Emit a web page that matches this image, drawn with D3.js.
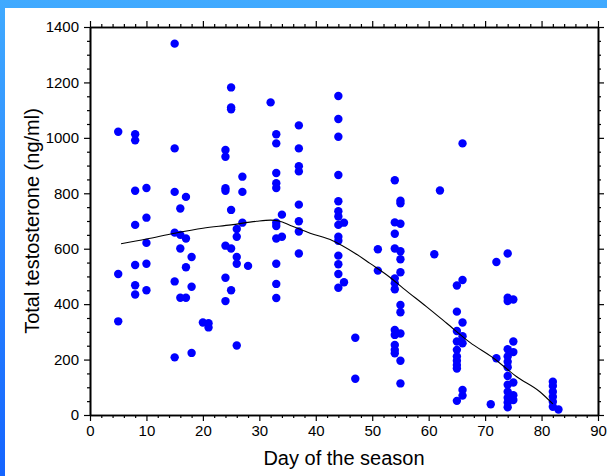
<!DOCTYPE html>
<html>
<head>
<meta charset="utf-8">
<script src="https://cdn.jsdelivr.net/npm/d3@7"></script>
<style>
  html, body { margin: 0; padding: 0; }
  body { width: 607px; height: 476px; overflow: hidden;
         background: linear-gradient(to bottom, #40aaff, #1464ff); }
  svg { display: block; }
  text { font-family: "Liberation Sans", Arial, sans-serif; fill: #000; }
</style>
</head>
<body>
<svg id="chart" width="607" height="476"></svg>
<script>
// Sampling day of each animal and its total testosterone (ng/ml)
const day = [
  5,5,5,
  8,8,8,8,8,8,8,
  10,10,10,10,10,
  15,15,15,15,15,15,
  16,16,16,16,
  17,17,17,17,
  18,18,18,
  20,21,21,
  24,24,24,24,24,24,24,
  25,25,25,25,25,25,
  26,26,26,26,26,
  27,27,27,
  28,32,
  33,33,33,33,33,33,33,33,33,33,33,
  34,34,
  37,37,37,37,37,37,37,37,
  44,44,44,44,44,44,44,44,44,44,44,44,44,44,
  45,45,
  47,47,
  51,51,
  54,54,54,54,54,54,54,54,54,54,54,54,
  55,55,55,55,55,55,55,55,55,55,55,
  61,62,
  65,65,65,65,65,65,65,65,65,65,
  66,66,66,66,66,66,66,
  71,72,72,
  74,74,74,74,74,74,74,74,74,74,74,74,74,
  75,75,75,75,75,75,
  82,82,82,82,82,82,
  83
];
const totalT = [
  1022,509,338,
  1013,991,809,686,541,468,435,
  819,712,621,546,450,
  1340,962,805,658,482,208,
  745,650,601,423,
  787,637,533,423,
  570,463,224,
  334,331,316,
  956,932,818,809,611,495,411,
  1182,1110,1103,740,601,450,
  671,643,570,546,251,
  860,805,694,
  538,1128,
  1013,980,873,836,819,694,682,637,546,473,422,
  723,643,
  1045,962,898,879,759,699,662,583,
  1151,1068,1004,866,771,735,716,686,643,629,575,544,509,459,
  694,479,
  279,131,
  598,521,
  847,695,654,601,493,475,454,307,289,253,235,223,
  773,764,690,591,562,515,397,371,294,196,114,
  580,810,
  467,373,303,265,235,211,196,180,168,51,
  980,487,334,284,259,90,70,
  39,552,205,
  583,423,411,237,211,192,172,141,109,84,62,45,28,
  417,265,227,117,71,54,
  120,105,84,66,48,30,
  20
];

// Smoothed seasonal trend
const trendDay = [5.5, 10, 15, 20, 25, 29.5, 32, 33.5, 35.5, 39, 43, 47, 49.6, 53, 55.5, 59.6, 63.2, 67.3, 71.5, 75.6, 79.7, 82];
const trendT   = [618, 635, 656, 674, 686, 699, 703, 700, 684, 656, 629, 583, 547, 499, 457, 391, 331, 262, 205, 138, 84, 40];

// Axis ticks
const xTicks = [0, 10, 20, 30, 40, 50, 60, 70, 80, 90];
const yTicks = [0, 200, 400, 600, 800, 1000, 1200, 1400];

const svg = d3.select("#chart");

// white panel over the blue frame
svg.append("rect").attr("x", 5).attr("y", 8).attr("width", 602).attr("height", 468).attr("fill", "#fff");

const x = d3.scaleLinear().domain([0, 90]).range([90, 598]);
const y = d3.scaleLinear().domain([0, 1400]).range([415, 27]);

const xMinor = d3.range(0, 91, 2).filter(v => v % 10 !== 0);
const yMinor = d3.range(0, 1401, 50).filter(v => v % 200 !== 0);

function styleAxis(g) {
  g.selectAll(".domain").attr("stroke", "#000").attr("stroke-width", 1.6);
  g.selectAll(".tick line").attr("stroke", "#000").attr("stroke-width", 1.2);
  g.selectAll(".tick text").style("font-size", "15px").style("font-family", "Liberation Sans, Arial, sans-serif");
}

// bottom axis
svg.append("g").attr("transform", `translate(0,${y(0)})`)
  .call(d3.axisBottom(x).tickValues(xMinor).tickSize(3).tickFormat("").tickSizeOuter(0)).call(styleAxis);
svg.append("g").attr("transform", `translate(0,${y(0)})`)
  .call(d3.axisBottom(x).tickValues(xTicks).tickSize(6).tickPadding(4).tickSizeOuter(0)).call(styleAxis);
// top axis
svg.append("g").attr("transform", `translate(0,${y(1400)})`)
  .call(d3.axisTop(x).tickValues(xMinor).tickSize(3).tickFormat("").tickSizeOuter(0)).call(styleAxis);
svg.append("g").attr("transform", `translate(0,${y(1400)})`)
  .call(d3.axisTop(x).tickValues(xTicks).tickSize(6).tickFormat("").tickSizeOuter(0)).call(styleAxis);
// left axis
svg.append("g").attr("transform", `translate(${x(0)},0)`)
  .call(d3.axisLeft(y).tickValues(yMinor).tickSize(3).tickFormat("").tickSizeOuter(0)).call(styleAxis);
svg.append("g").attr("transform", `translate(${x(0)},0)`)
  .call(d3.axisLeft(y).tickValues(yTicks).tickSize(6).tickPadding(5).tickFormat(d3.format("d")).tickSizeOuter(0)).call(styleAxis);
// right axis
svg.append("g").attr("transform", `translate(${x(90)},0)`)
  .call(d3.axisRight(y).tickValues(yMinor).tickSize(3).tickFormat("").tickSizeOuter(0)).call(styleAxis);
svg.append("g").attr("transform", `translate(${x(90)},0)`)
  .call(d3.axisRight(y).tickValues(yTicks).tickSize(6).tickFormat("").tickSizeOuter(0)).call(styleAxis);

// data points
svg.append("g").selectAll("circle")
  .data(day.map((d, i) => [d, totalT[i]]))
  .join("circle")
  .attr("cx", d => x(d[0]))
  .attr("cy", d => y(d[1]))
  .attr("r", 4.2)
  .attr("fill", "#0000ff");

// trend line
const line = d3.line().x(d => x(d[0])).y(d => y(d[1])).curve(d3.curveMonotoneX);
svg.append("path")
  .datum(trendDay.map((d, i) => [d, trendT[i]]))
  .attr("d", line)
  .attr("fill", "none")
  .attr("stroke", "#000")
  .attr("stroke-width", 1.1);

// axis titles
svg.append("text")
  .attr("x", (x(0) + x(90)) / 2)
  .attr("y", 465)
  .attr("text-anchor", "middle")
  .style("font-size", "20px")
  .text("Day of the season");

svg.append("text")
  .attr("transform", `translate(39,${(y(0) + y(1400)) / 2}) rotate(-90)`)
  .attr("text-anchor", "middle")
  .style("font-size", "20px")
  .text("Total testosterone (ng/ml)");
</script>
</body>
</html>
